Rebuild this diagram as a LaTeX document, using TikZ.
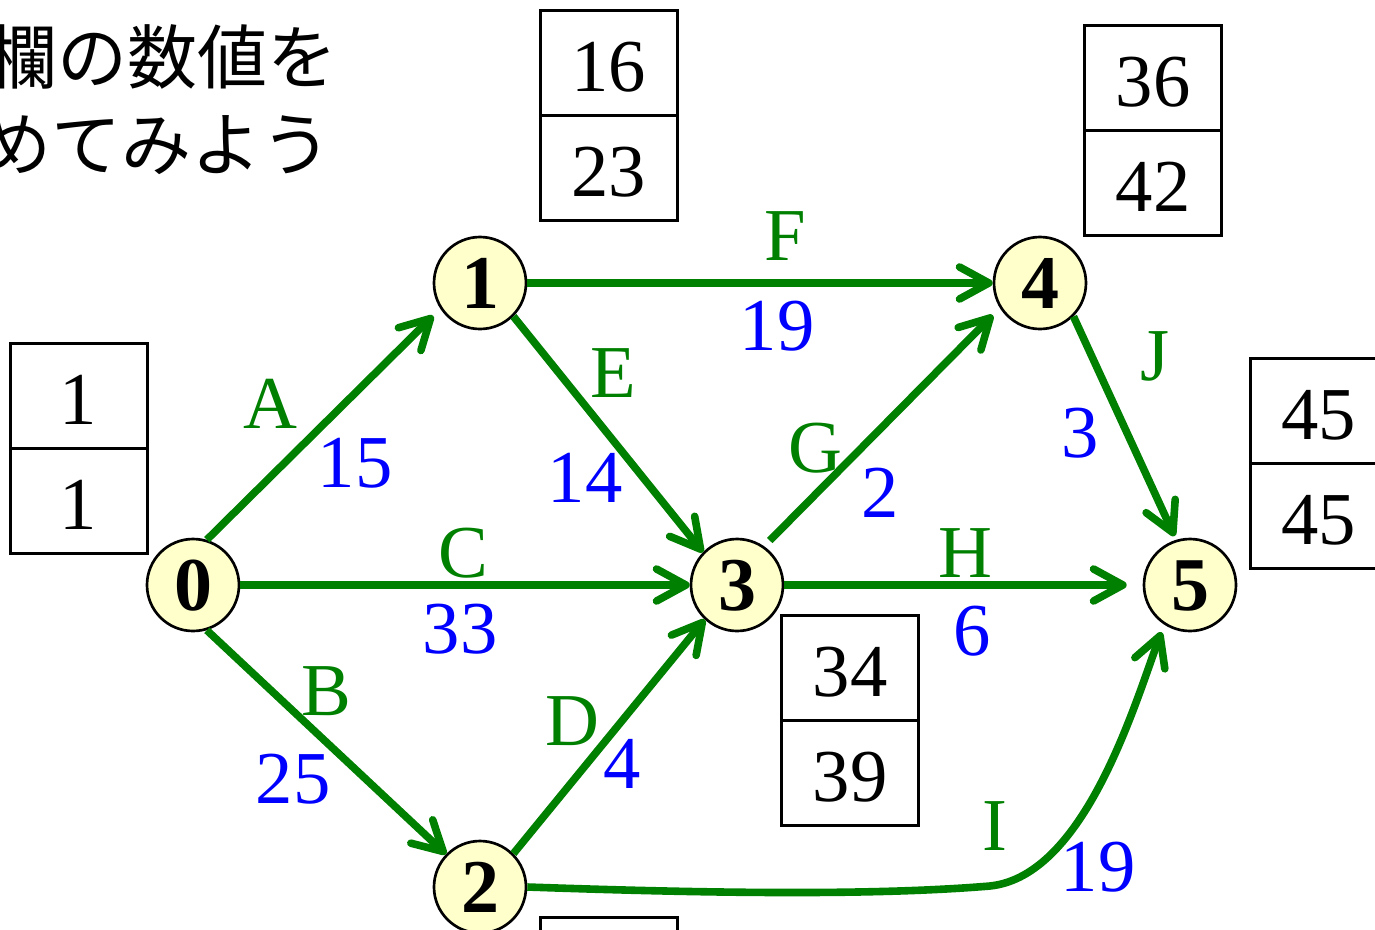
\documentclass[tikz,border=0pt]{standalone}
\usepackage{fontspec}
\setmainfont{Liberation Serif}
\newfontfamily\jpfont{Noto Sans CJK JP}
\usetikzlibrary{arrows.meta}
\definecolor{egreen}{RGB}{0,128,0}
\definecolor{eblue}{RGB}{0,0,255}
\definecolor{nfill}{RGB}{255,255,204}
\begin{document}
\begin{tikzpicture}[x=0.75pt,y=-0.75pt,
  ev/.style={circle, draw=black, line width=2pt, fill=nfill, minimum size=69pt, inner sep=0pt,
    font=\fontsize{57}{60}\selectfont\bfseries, text height=38.5pt, text depth=0pt},
  act/.style={draw=egreen, line width=5.7pt, -{Straight Barb[length=22pt,width=24pt,round]}},
  lt/.style={text=egreen, font=\fontsize{56}{60}\selectfont, anchor=base, inner sep=0pt},
  dur/.style={text=eblue, font=\fontsize{56}{60}\selectfont, anchor=base, inner sep=0pt},
  cell/.style={draw=black, line width=2.25pt, minimum width=102.75pt, minimum height=78.75pt, inner sep=0pt,
    font=\fontsize{56}{60}\selectfont, text height=42.75pt, text depth=0pt},
  jp/.style={anchor=base east, inner sep=0pt, font=\jpfont\fontsize{52.5}{56}\selectfont},
]
\useasboundingbox (0,0) rectangle (1375,929);
\clip (0,0) rectangle (1375,929);
\fill[white] (0,0) rectangle (1375,929);

% title text
\node[jp] (t1) at (338,83) {欄の数値を};
\node[jp] (t2) at (332,170) {めてみよう};

% event nodes
\node[ev] (n0) at (193,585) {0};
\node[ev] (n1) at (480,283) {1};
\node[ev] (n2) at (480,887) {2};
\node[ev] (n3) at (737,585) {3};
\node[ev] (n4) at (1040,283) {4};
\node[ev] (n5) at (1190,585) {5};

% boxes
\node[cell] (b0t) at (78.5,395.5) {1};
\node[cell] (b0b) at (78.5,500.5) {1};
\node[cell] (b1t) at (608.5,62.5) {16};
\node[cell] (b1b) at (608.5,167.5) {23};
\node[cell] (b4t) at (1153,77.5) {36};
\node[cell] (b4b) at (1153,182.5) {42};
\node[cell] (b5t) at (1318.5,410.5) {45};
\node[cell] (b5b) at (1318.5,515.5) {45};
\node[cell] (b3t) at (850,667.5) {34};
\node[cell] (b3b) at (850,772.5) {39};
\node[cell] (b2t) at (608.5,969.5) {};

% activities
\draw[act, shorten >=7.5pt] (n0.73) -- (n1.213);
\draw[act] (n0.-73) -- (n2.136);
\draw[act] (n0.east) -- (n3.west);
\draw[act] (n2.45) -- (n3.227);
\draw[act] (n1.-45) -- (n3.136);
\draw[act] (n1.east) -- (n4.west);
\draw[act, shorten <=6pt, shorten >=7.5pt] (n3.55) -- (n4.212);
\draw[act, shorten >=12pt] (n3.east) -- (n5.west);
\draw[act, shorten >=3pt] (n4.-45) -- (n5.107);
\coordinate (ibend) at (990,886);
\draw[act, shorten >=6pt] (n2.east) .. controls (700,893) and (870,896) .. (ibend)
  .. controls (1085,876) and (1135,703) .. (n5.237);

% labels
\node[lt] (lA) at (270,428) {A};
\node[dur] (dA) at (355,487) {15};
\node[lt] (lC) at (463,577) {C};
\node[dur] (dC) at (460,653) {33};
\node[lt] (lB) at (326,715) {B};
\node[dur] (dB) at (293,803) {25};
\node[lt] (lD) at (572,745) {D};
\node[dur] (dD) at (622,788) {4};
\node[lt] (lE) at (613,397) {E};
\node[dur] (dE) at (585,502) {14};
\node[lt] (lF) at (785,260) {F};
\node[dur] (dF) at (777,350) {19};
\node[lt] (lG) at (815,472) {G};
\node[dur] (dG) at (880,517) {2};
\node[lt] (lH) at (965,577) {H};
\node[dur] (dH) at (972,655) {6};
\node[lt] (lJ) at (1155,380) {J};
\node[dur] (dJ) at (1080,457) {3};
\node[lt] (lI) at (995,850) {I};
\node[dur] (dI) at (1098,891) {19};
\end{tikzpicture}
\end{document}
